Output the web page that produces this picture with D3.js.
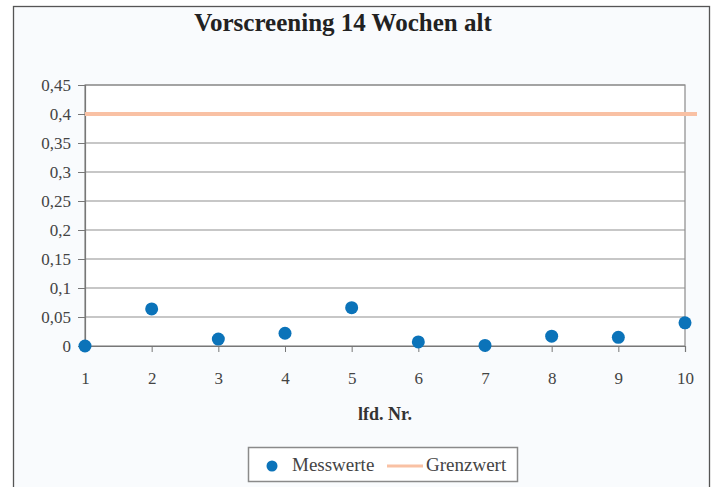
<!DOCTYPE html>
<html>
<head>
<meta charset="utf-8">
<script src="https://cdn.jsdelivr.net/npm/d3@7"></script>
<style>
  html, body { margin: 0; padding: 0; background: #ffffff; }
  svg { display: block; }
</style>
</head>
<body>
<svg id="chart" width="715" height="487"></svg>
<script>
// Laufende Nummern und Messwerte
const categories = [1, 2, 3, 4, 5, 6, 7, 8, 9, 10];
const messwerte = [0.0, 0.064, 0.012, 0.022, 0.066, 0.007, 0.001, 0.017, 0.015, 0.040];
const grenzwert = 0.4;
const yTicks = [0, 0.05, 0.1, 0.15, 0.2, 0.25, 0.3, 0.35, 0.4, 0.45];
const titleText = "Vorscreening 14 Wochen alt";
const xAxisTitle = "lfd. Nr.";
const legendLabels = ["Messwerte", "Grenzwert"];

const svg = d3.select("#chart");
const W = 715, H = 487;
const serif = "'Liberation Serif', 'Times New Roman', serif";
const dotColor = "#0b73b9";
const limitColor = "#f9c1a4";

// Rahmen und Hintergrund
svg.append("rect").attr("x", 0).attr("y", 0).attr("width", W).attr("height", H).attr("fill", "#ffffff");
svg.append("rect").attr("x", 13.5).attr("y", 6.5).attr("width", 696).attr("height", 490)
  .attr("fill", "#f9fbfd").attr("stroke", "#555").attr("stroke-width", 1.3);

const plot = { left: 85, right: 685, top: 85, bottom: 346 };

const x = d3.scaleLinear().domain([1, 10]).range([plot.left, plot.right]);
const y = d3.scaleLinear().domain([0, 0.45]).range([plot.bottom, plot.top]);

// Plotfläche
svg.append("rect").attr("x", plot.left).attr("y", plot.top)
  .attr("width", plot.right - plot.left).attr("height", plot.bottom - plot.top)
  .attr("fill", "#ffffff").attr("stroke", "#8a8a8a").attr("stroke-width", 1.2);

// Gitterlinien
svg.append("g").selectAll("line").data(yTicks.filter(d => d > 0)).join("line")
  .attr("x1", plot.left).attr("x2", plot.right)
  .attr("y1", d => y(d)).attr("y2", d => y(d))
  .attr("stroke", "#8f8f8f").attr("stroke-width", 1.2);

// Y-Achse
const fmt = d => String(+d.toFixed(2)).replace(".", ",");
const yAxis = svg.append("g").attr("transform", `translate(${plot.left},0)`)
  .call(d3.axisLeft(y).tickValues(yTicks).tickFormat(fmt).tickSize(7).tickPadding(7));
yAxis.select(".domain").attr("stroke", "#777").attr("stroke-width", 1.2);
yAxis.selectAll(".tick line").attr("stroke", "#777");
yAxis.selectAll("text").attr("font-family", serif).attr("font-size", 17).attr("fill", "#444");

// X-Achse
const xAxis = svg.append("g").attr("transform", `translate(0,${plot.bottom})`)
  .call(d3.axisBottom(x).tickValues(categories).tickFormat(d3.format("d")).tickSize(6).tickPadding(20));
xAxis.select(".domain").attr("stroke", "#777").attr("stroke-width", 1.2);
xAxis.selectAll(".tick line").attr("stroke", "#777");
xAxis.selectAll("text").attr("font-family", serif).attr("font-size", 17).attr("fill", "#444");

// Grenzwertlinie
svg.append("line")
  .attr("x1", plot.left).attr("x2", 697)
  .attr("y1", y(grenzwert)).attr("y2", y(grenzwert))
  .attr("stroke", limitColor).attr("stroke-width", 4);

// Messwerte
svg.append("g").selectAll("circle").data(categories).join("circle")
  .attr("cx", d => x(d)).attr("cy", (d, i) => y(messwerte[i]))
  .attr("r", 6.5).attr("fill", dotColor);

// Titel
svg.append("text").attr("x", 343).attr("y", 31).attr("text-anchor", "middle")
  .attr("font-family", serif).attr("font-size", 25).attr("font-weight", "bold").attr("fill", "#222")
  .text(titleText);

// Achsentitel
svg.append("text").attr("x", 385).attr("y", 420).attr("text-anchor", "middle")
  .attr("font-family", serif).attr("font-size", 18).attr("font-weight", "bold").attr("fill", "#333")
  .text(xAxisTitle);

// Legende
const lg = svg.append("g");
lg.append("rect").attr("x", 248.5).attr("y", 447.5).attr("width", 269).attr("height", 34)
  .attr("fill", "#ffffff").attr("stroke", "#8a8a8a").attr("stroke-width", 1.5);
lg.append("circle").attr("cx", 272).attr("cy", 466).attr("r", 5.5).attr("fill", dotColor);
lg.append("text").attr("x", 292).attr("y", 471).attr("font-family", serif).attr("font-size", 19)
  .attr("fill", "#444").text(legendLabels[0]);
lg.append("line").attr("x1", 387).attr("x2", 423).attr("y1", 466).attr("y2", 466)
  .attr("stroke", limitColor).attr("stroke-width", 3);
lg.append("text").attr("x", 426).attr("y", 471).attr("font-family", serif).attr("font-size", 19)
  .attr("fill", "#444").text(legendLabels[1]);
</script>
</body>
</html>
